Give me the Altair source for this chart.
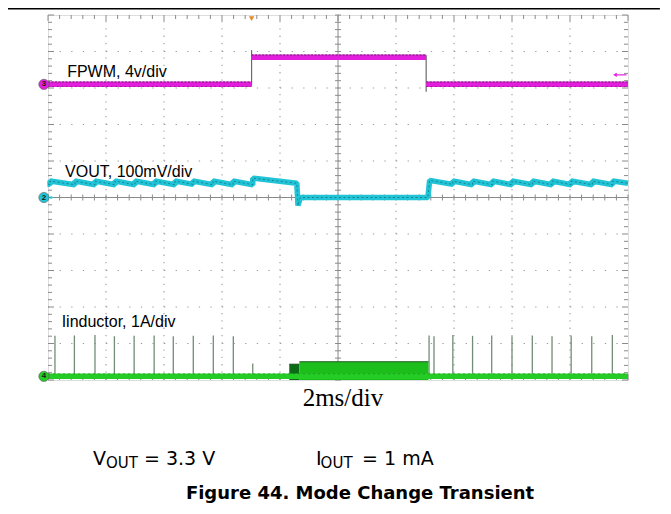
import altair as alt
import pandas as pd
import numpy as np

# ---------------- data (time in ms, amplitude in screen divisions) ----------------
T0, T1 = 0.0, 20.0          # 10 div x 2 ms/div
Y0, Y1 = -5.0, 5.0          # 10 vertical divisions
W, H = 580, 365
PXX = W / (T1 - T0)         # px per ms
PXY = H / (Y1 - Y0)         # px per div

# FPWM (ch3) level segments
fpwm_start = [0.00, 7.02, 13.04]
fpwm_end = [7.02, 13.04, 20.00]
fpwm_level = [3.10, 3.84, 3.10]
fpwm_edge_t = [7.02, 13.04]
fpwm_edge_lo = [3.06, 2.90]
fpwm_edge_hi = [4.04, 3.90]

# VOUT (ch2) sawtooth trace
vout_t = [0.00, 0.07, 0.07, 0.93, 0.93, 1.62, 1.62, 2.31, 2.31, 3.00, 3.00,
          3.69, 3.69, 4.38, 4.38, 5.00, 5.00, 5.69, 5.69, 6.38, 6.38, 7.06,
          7.06, 8.58, 8.62, 8.70, 13.10, 13.16, 13.96, 13.96, 14.64, 14.64,
          15.32, 15.32, 16.00, 16.00, 16.70, 16.70, 17.38, 17.38, 18.04, 18.04,
          18.77, 18.77, 19.47, 19.47, 20.00]
vout_v = [0.37, 0.35, 0.45, 0.35, 0.45, 0.35, 0.45, 0.35, 0.45, 0.35, 0.45,
          0.35, 0.45, 0.35, 0.45, 0.36, 0.45, 0.35, 0.45, 0.35, 0.45, 0.35,
          0.53, 0.39, -0.22, 0.00, 0.00, 0.47, 0.36, 0.45, 0.35, 0.45,
          0.35, 0.45, 0.35, 0.45, 0.35, 0.45, 0.35, 0.45, 0.35, 0.45,
          0.35, 0.45, 0.35, 0.45, 0.39]

# Inductor current (ch4)
ind_base = -4.90
ind_spike_t = [0.24, 0.91, 1.62, 2.29, 2.97, 3.66, 4.32, 5.01, 5.70, 6.39, 7.06,
               13.14, 13.31, 13.96, 14.64, 15.30, 16.00, 16.70, 17.38, 18.04, 18.75, 19.46]
ind_spike_top = [-3.79, -3.78, -3.77, -3.80, -3.79, -3.78, -3.80, -3.79, -3.78, -3.80, -4.55,
                 -3.78, -3.80, -3.77, -3.79, -3.78, -3.80, -3.78, -3.80, -3.78, -3.80, -3.77]
ind_block_start = [8.32, 8.67]
ind_block_end = [8.67, 13.12]
ind_block_top = [-4.57, -4.50]

# channel markers
marker_label = ["3", "2", "4"]
marker_level = [3.10, 0.00, -4.90]
marker_color = ["#E21EDC", "#22C6D8", "#25CC25"]

# ---------------- helpers ----------------
xs = alt.Scale(domain=[T0, T1], nice=False, zero=False)
ys = alt.Scale(domain=[Y0, Y1], nice=False, zero=False)


def rules(df, **mk):
    return alt.Chart(df).mark_rule(**mk).encode(
        x=alt.X("x:Q", scale=xs, axis=None),
        x2="x2:Q",
        y=alt.Y("y:Q", scale=ys, axis=None),
        y2="y2:Q",
    )


def txt(x, y, s, **mk):
    return alt.Chart(pd.DataFrame({"x": [x], "y": [y], "s": [s]})).mark_text(**mk).encode(
        x=alt.X("x:Q", scale=xs, axis=None),
        y=alt.Y("y:Q", scale=ys, axis=None),
        text="s:N",
    )


# ---------------- graticule ----------------
hgrid = pd.DataFrame({"y": [-4, -3, -2, -1, 1, 2, 3, 4]})
hgrid["y2"] = hgrid["y"]
hgrid["x"] = T0
hgrid["x2"] = T1
vgrid = pd.DataFrame({"x": [2, 4, 6, 8, 12, 14, 16, 18]})
vgrid["x2"] = vgrid["x"]
vgrid["y"] = Y0
vgrid["y2"] = Y1
center = pd.DataFrame({"x": [T0, 10.0], "x2": [T1, 10.0], "y": [0.0, Y0], "y2": [0.0, Y1]})

my = np.round(np.arange(Y0, Y1 + 0.001, 0.2), 2)
mx = np.round(np.arange(T0, T1 + 0.001, 0.4), 2)
tk = []
for y in my:
    ln = 6 if abs(y - round(y)) < 1e-6 else 4
    tk.append((T0, T0 + ln / PXX, y, y))
    tk.append((T1 - ln / PXX, T1, y, y))
    tk.append((10 - 3 / PXX, 10 + 3 / PXX, y, y))
for x in mx:
    ln = 6 if abs(x / 2 - round(x / 2)) < 1e-6 else 4
    tk.append((x, x, Y1, Y1 - ln / PXY))
    tk.append((x, x, Y0, Y0 + ln / PXY))
    tk.append((x, x, -3 / PXY, 3 / PXY))
ticks = pd.DataFrame(tk, columns=["x", "x2", "y", "y2"])

layers = [
    rules(hgrid, color="#9c9c9c", strokeWidth=1.1, strokeDash=[1.3, 10.3]),
    rules(vgrid, color="#9c9c9c", strokeWidth=1.1, strokeDash=[1.3, 6.0]),
    rules(center, color="#8a8a8a", strokeWidth=1),
    rules(ticks, color="#8a8a8a", strokeWidth=1),
]

# ---------------- FPWM ----------------
fp = pd.DataFrame({"x": fpwm_start, "x2": fpwm_end, "y": fpwm_level, "y2": fpwm_level})
fp_e = pd.DataFrame({"x": fpwm_edge_t, "x2": fpwm_edge_t, "y": fpwm_edge_lo, "y2": fpwm_edge_hi})
fp_top = fp.copy()
fp_top["y"] = fp_top["y"] + 0.065
fp_top["y2"] = fp_top["y"]
fp_bot = fp.copy()
fp_bot["y"] = fp_bot["y"] - 0.06
fp_bot["y2"] = fp_bot["y"]
layers += [
    rules(fp_e, color="#6a6a6a", strokeWidth=1.2),
    rules(fp, color="#E21EDC", strokeWidth=5.5, strokeCap="butt"),
    rules(fp_top, color="#3a2038", strokeWidth=1, strokeDash=[2, 1.5], opacity=0.75),
    rules(fp_bot.iloc[[0, 2]], color="#3a2038", strokeWidth=1, strokeDash=[1.5, 3], opacity=0.5),
]

# ---------------- VOUT ----------------
vd = pd.DataFrame({"x": vout_t, "y": vout_v, "i": range(len(vout_t))})
vline = alt.Chart(vd).encode(
    x=alt.X("x:Q", scale=xs, axis=None),
    y=alt.Y("y:Q", scale=ys, axis=None),
    order="i:Q",
)
layers += [
    vline.mark_line(color="#20C4D6", strokeWidth=5.5, strokeJoin="bevel"),
    vline.mark_line(color="#163f46", strokeWidth=0.9, strokeDash=[2, 2.5], opacity=0.55),
]

# ---------------- Inductor ----------------
sp = pd.DataFrame({"x": ind_spike_t, "x2": ind_spike_t,
                   "y": [ind_base] * len(ind_spike_t), "y2": ind_spike_top})
blk = pd.DataFrame({"x": ind_block_start, "x2": ind_block_end,
                    "y": [Y0] * 2, "y2": ind_block_top, "c": ["#0B6A16", "#1BBE1B"]})
blk_edge = pd.DataFrame({"x": ind_block_start, "x2": ind_block_end,
                         "y": ind_block_top, "y2": ind_block_top})
base = pd.DataFrame({"x": [T0], "x2": [T1], "y": [ind_base], "y2": [ind_base]})
layers += [
    rules(sp, color="#728c76", strokeWidth=1.3),
    alt.Chart(blk).mark_rect().encode(
        x=alt.X("x:Q", scale=xs, axis=None), x2="x2:Q",
        y=alt.Y("y:Q", scale=ys, axis=None), y2="y2:Q",
        color=alt.Color("c:N", scale=None),
    ),
    rules(blk_edge, color="#1c5a22", strokeWidth=1.2),
    rules(base, color="#25CC25", strokeWidth=5.5, strokeCap="butt"),
    rules(base.assign(y=ind_base + 0.07, y2=ind_base + 0.07), color="#1d6e22",
          strokeWidth=0.8, strokeDash=[2, 3], opacity=0.6),
]

# ---------------- markers ----------------
mk = pd.DataFrame({"x": [-0.14] * 3, "y": marker_level, "c": marker_color, "s": marker_label})
layers += [
    alt.Chart(mk).mark_point(shape="circle", filled=True, size=105, opacity=1,
                             stroke="#555555", strokeWidth=0.6).encode(
        x=alt.X("x:Q", scale=xs, axis=None), y=alt.Y("y:Q", scale=ys, axis=None),
        color=alt.Color("c:N", scale=None)),
    alt.Chart(mk).mark_text(fontSize=8, fontWeight="bold", color="#1a1a1a",
                            font="Liberation Sans", baseline="middle").encode(
        x=alt.X("x:Q", scale=xs, axis=None), y=alt.Y("y:Q", scale=ys, axis=None), text="s:N"),
    alt.Chart(pd.DataFrame({"x": [0.14], "y": [0.0]})).mark_point(
        shape="triangle-right", filled=True, size=14, color="#22C6D8", opacity=1).encode(
        x=alt.X("x:Q", scale=xs, axis=None), y=alt.Y("y:Q", scale=ys, axis=None)),
    alt.Chart(pd.DataFrame({"x": [7.02], "y": [4.90]})).mark_point(
        shape="triangle-down", filled=True, size=30, color="#E8862A", opacity=1).encode(
        x=alt.X("x:Q", scale=xs, axis=None), y=alt.Y("y:Q", scale=ys, axis=None)),
    alt.Chart(pd.DataFrame({"x": [19.55], "y": [3.36]})).mark_point(
        shape="triangle-left", filled=True, size=18, color="#E21EDC", opacity=1).encode(
        x=alt.X("x:Q", scale=xs, axis=None), y=alt.Y("y:Q", scale=ys, axis=None)),
    rules(pd.DataFrame({"x": [19.6], "x2": [19.95], "y": [3.36], "y2": [3.36]}),
          color="#E21EDC", strokeWidth=1.2),
]

# ---------------- header rule ----------------
layers.append(rules(pd.DataFrame({"x": [-1.38], "x2": [21.1], "y": [5.17], "y2": [5.17]}),
                    color="#000000", strokeWidth=1.6))

# ---------------- labels ----------------
lab = dict(font="Liberation Sans", fontSize=16, align="left", baseline="alphabetic", color="#000000")
layers += [
    txt(0.66, 3.29, "FPWM, 4v/div", **lab),
    txt(0.59, 0.57, "VOUT, 100mV/div", **lab),
    txt(0.47, -3.54, "Iinductor, 1A/div", **lab),
    txt(10.17, -5.71, "2ms/div", font="Liberation Serif", fontSize=25, align="center",
        baseline="alphabetic", color="#000000"),
]
big = dict(font="DejaVu Sans", fontSize=19, align="left", baseline="alphabetic", color="#000000")
sub = dict(font="DejaVu Sans", fontSize=15, align="left", baseline="alphabetic", color="#000000")
layers += [
    txt(1.55, -7.33, "V", **big),
    txt(2.00, -7.42, "OUT", **sub),
    txt(3.31, -7.33, "= 3.3 V", **big),
    txt(9.24, -7.33, "I", **big),
    txt(9.40, -7.42, "OUT", **sub),
    txt(10.83, -7.33, "= 1 mA", **big),
    txt(10.76, -8.25, "Figure 44. Mode Change Transient", font="DejaVu Sans", fontSize=18,
        fontWeight="bold", align="center", baseline="alphabetic", color="#000000"),
]

chart = alt.layer(*layers).properties(
    width=W, height=H,
    autosize=alt.AutoSizeParams(type="none"),
    padding={"left": 40, "top": 7, "right": 35, "bottom": 126},
).configure_view(stroke="#E8862A", strokeWidth=2.5).configure(background="#ffffff")

chart.save("out.html", embed_options={"renderer": "svg", "actions": False})
